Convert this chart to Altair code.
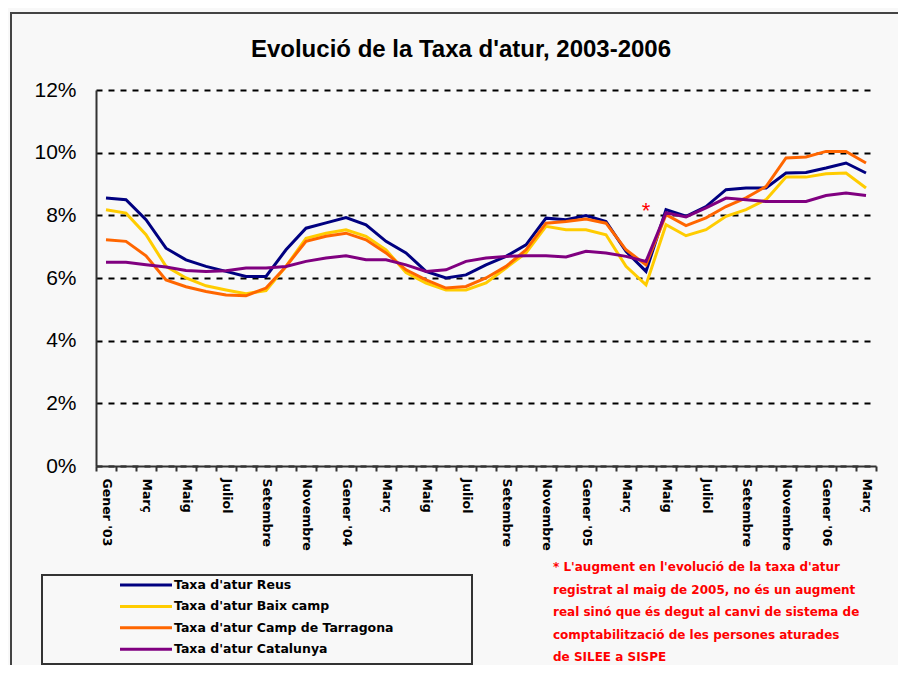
import json
import altair as alt
import pandas as pd

# ---------------- data ----------------
series = [
    "Taxa d'atur Reus",
    "Taxa d'atur Baix camp",
    "Taxa d'atur Camp de Tarragona",
    "Taxa d'atur Catalunya",
]
colors = ["#000080", "#FFCC00", "#FF6600", "#800080"]

# monthly values, Gener '03 ... Març '06 (39 months), in %
reus = [8.55, 8.50, 7.86, 6.95, 6.58, 6.37, 6.21, 6.05, 6.05, 6.90, 7.59, 7.76, 7.93,
        7.70, 7.17, 6.80, 6.21, 6.00, 6.10, 6.42, 6.69, 7.06, 7.91, 7.86, 7.99, 7.80,
        6.85, 6.21, 8.18, 7.97, 8.28, 8.82, 8.87, 8.87, 9.35, 9.37, 9.51, 9.67, 9.35]
baix = [8.18, 8.07, 7.38, 6.37, 6.00, 5.75, 5.62, 5.50, 5.60, 6.37, 7.27, 7.43, 7.54,
        7.33, 6.90, 6.17, 5.84, 5.62, 5.62, 5.84, 6.32, 6.80, 7.65, 7.54, 7.54, 7.38,
        6.37, 5.78, 7.70, 7.35, 7.54, 7.97, 8.18, 8.50, 9.22, 9.22, 9.33, 9.35, 8.87]
camp = [7.22, 7.17, 6.71, 5.94, 5.72, 5.57, 5.46, 5.43, 5.68, 6.37, 7.17, 7.33, 7.43,
        7.22, 6.80, 6.26, 5.94, 5.68, 5.73, 6.00, 6.37, 6.90, 7.75, 7.80, 7.88, 7.75,
        6.90, 6.42, 8.02, 7.67, 7.92, 8.28, 8.56, 8.92, 9.83, 9.86, 10.04, 10.04, 9.67]
catalunya = [6.50, 6.50, 6.42, 6.35, 6.24, 6.21, 6.23, 6.32, 6.32, 6.37, 6.53, 6.64, 6.71,
             6.58, 6.58, 6.42, 6.21, 6.26, 6.53, 6.64, 6.69, 6.71, 6.71, 6.67, 6.85, 6.80,
             6.69, 6.53, 8.08, 7.95, 8.24, 8.55, 8.50, 8.44, 8.44, 8.44, 8.63, 8.71, 8.63]

# labels shown on the category axis (every second month)
tick_labels = ["Gener '03", "Març", "Maig", "Juliol", "Setembre", "Novembre",
               "Gener '04", "Març", "Maig", "Juliol", "Setembre", "Novembre",
               "Gener '05", "Març", "Maig", "Juliol", "Setembre", "Novembre",
               "Gener '06", "Març"]
n_months = len(reus)

y_ticks = [0, 2, 4, 6, 8, 10, 12]

title_text = "Evolució de la Taxa d'atur, 2003-2006"
footnote = ("* L'augment  en l'evolució  de la taxa d'atur\n"
            "registrat al maig de 2005, no és un augment\n"
            "real sinó que és degut al canvi de sistema de\n"
            "comptabilització de les persones aturades\n"
            "de SILEE a SISPE")
star_month = 27      # Abril '05
star_level = 7.9

# ---------------- tables ----------------
rows = []
for name, vals in zip(series, [reus, baix, camp, catalunya]):
    for i, v in enumerate(vals):
        rows.append({"series": name, "idx": i, "value": v})
df = pd.DataFrame(rows)
star_df = pd.DataFrame({"idx": [star_month], "value": [star_level], "mark": ["*"]})
note_df = pd.DataFrame({"note": [footnote]})
title_df = pd.DataFrame({"title": [title_text]})
leg_df = pd.DataFrame({"series": series})
one = pd.DataFrame({"k": [0]})

# ---------------- scales / axes ----------------
W, H = 780, 376
x_scale = alt.Scale(domain=[-0.5, n_months - 0.5], nice=False, zero=False)
y_scale = alt.Scale(domain=[0, 12], nice=False)
color_scale = alt.Scale(domain=series, range=colors)

x_values = [i - 0.5 for i in range(n_months + 1)] + list(range(0, n_months, 2))
labels_js = json.dumps(tick_labels, ensure_ascii=False)
x_axis = alt.Axis(
    values=x_values,
    labelExpr=f"(datum.value % 2 === 0) ? {labels_js}[datum.value / 2] : ''",
    labelAngle=90, labelFont="DejaVu Sans", labelFontWeight="bold", labelFontSize=12.5,
    labelColor="black", labelPadding=7, labelOverlap=False, labelFlush=False,
    tickSize=5, tickWidth=2, tickColor="#333333",
    tickOpacity={"condition": {"test": "datum.value % 1 !== 0", "value": 1}, "value": 0},
    domainColor="#333333", domainWidth=2, grid=False, title=None,
)
y_axis = alt.Axis(
    values=y_ticks, labelExpr="datum.value + '%'",
    labelFont="Liberation Sans", labelFontSize=21, labelColor="black",
    ticks=False, tickSize=0, labelPadding=20,
    domainColor="#333333", domainWidth=2,
    grid=True, gridColor="black", gridDash=[6, 6], gridWidth=2, title=None,
)

# ---------------- layers ----------------
frame = alt.Chart(one).mark_rect(fillOpacity=0, stroke="#444444", strokeWidth=2).encode(
    x=alt.value(-85), x2=alt.value(840), y=alt.value(-77), y2=alt.value(640)
)

title = alt.Chart(title_df).mark_text(
    font="Liberation Sans", fontSize=24, fontWeight="bold", color="black",
    align="center", baseline="alphabetic",
).encode(x=alt.value(365), y=alt.value(-33), text="title:N")

# one layer per series, in drawing order (later series on top)
line_layers = []
for k, name in enumerate(series):
    line_layers.append(
        alt.Chart(df).transform_filter(alt.datum.series == name).mark_line(strokeWidth=3).encode(
            x=alt.X("idx:Q", scale=x_scale, axis=x_axis),
            y=alt.Y("value:Q", scale=y_scale, axis=y_axis if k == 0 else None),
            color=alt.Color("series:N", scale=color_scale, legend=None),
        )
    )

star = alt.Chart(star_df).mark_text(
    color="#FF0000", fontSize=22, font="Liberation Sans", baseline="alphabetic", align="center"
).encode(
    x=alt.X("idx:Q", scale=x_scale, axis=x_axis),
    y=alt.Y("value:Q", scale=y_scale, axis=None),
    text="mark:N",
)

note = alt.Chart(note_df).mark_text(
    align="left", baseline="alphabetic", lineBreak="\n", lineHeight=22.6,
    fontSize=12, font="DejaVu Sans", fontWeight="bold", color="#FF0000",
).encode(x=alt.value(457), y=alt.value(481), text="note:N")

box = alt.Chart(one).mark_rect(fillOpacity=0, stroke="#333333", strokeWidth=2).encode(
    x=alt.value(-54), x2=alt.value(376), y=alt.value(485), y2=alt.value(574)
)

leg_y = alt.Y("series:N", scale=alt.Scale(type="point", domain=series, range=[495, 559.3], padding=0), axis=None)
leg_rule = alt.Chart(leg_df).mark_rule(strokeWidth=3).encode(
    x=alt.value(24), x2=alt.value(76), y=leg_y,
    color=alt.Color("series:N", scale=color_scale, legend=None),
)
leg_text = alt.Chart(leg_df).mark_text(
    align="left", baseline="middle", font="DejaVu Sans", fontWeight="bold", fontSize=12.5, color="black"
).encode(x=alt.value(78), y=leg_y, text="series:N")

chart = alt.layer(frame, title, *line_layers, star, note, box, leg_rule, leg_text).resolve_scale(
    y="independent"
).properties(
    width=W, height=H,
    autosize=alt.AutoSizeParams(type="none"),
    padding={"left": 88, "top": 82, "right": 22, "bottom": 199},
    background="#f8f8f8",
).configure_view(stroke=None)

chart.save("out.html", embed_options={"renderer": "svg", "actions": False})
